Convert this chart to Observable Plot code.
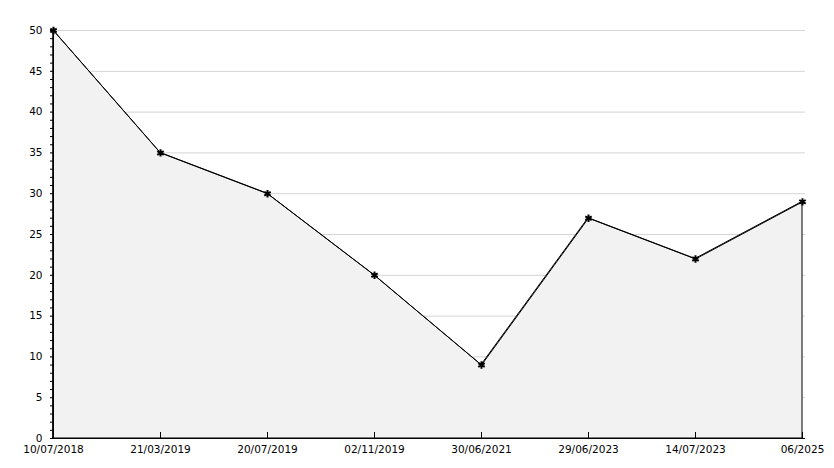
<!DOCTYPE html>
<html><head><meta charset="utf-8">
<script src="https://cdn.jsdelivr.net/npm/d3@7"></script>
<script src="https://cdn.jsdelivr.net/npm/@observablehq/plot@0.6"></script>
<style>
body{margin:0;background:#fff;}
svg{font-family:"DejaVu Sans",sans-serif;}
</style></head>
<body><div id="chart"></div>
<script>
const dates = ["10/07/2018","21/03/2019","20/07/2019","02/11/2019","30/06/2021","29/06/2023","14/07/2023","06/2025"];
const values = [50,35,30,20,9,27,22,29];
const yMajor = [0,5,10,15,20,25,30,35,40,45,50];
const yMinor = d3.range(0,51,1);
const data = dates.map((d,i)=>({date:d, value:values[i]}));

const W = 834, H = 468, mL = 50, mR = 29, mT = 30, mB = 30;
const plotW = W - mL - mR, plotH = H - mT - mB;
const pxPerUnit = plotH / 50;

const chart = Plot.plot({
  width:W, height:H,
  marginLeft:mL, marginRight:mR, marginTop:mT, marginBottom:mB,
  style:{fontSize:"10.5px", color:"#000", background:"#fff"},
  x:{type:"point", domain:dates, padding:0, label:null},
  y:{domain:[0,50], label:null},
  marks:[
    Plot.gridY(yMajor, {stroke:"#d4d4d4", strokeOpacity:1}),
    Plot.areaY(data, {x:"date", y:"value", fill:"#f2f2f2", stroke:"#000", strokeWidth:1}),
    Plot.lineY(data, {x:"date", y:"value", stroke:"#000", strokeWidth:1}),
    Plot.ruleY(yMinor, {y:d=>d, stroke:"#000", strokeWidth:1, insetRight: plotW - 4}),
    Plot.axisY({ticks:yMajor, tickSize:0, tickPadding:8, label:null}),
    Plot.ruleX(dates, {x:d=>d, y1:0, y2:6/pxPerUnit, stroke:"#000", strokeWidth:1}),
    Plot.axisX({tickSize:0, tickPadding:7, label:null}),
    Plot.ruleY([0], {stroke:"#000"}),
    Plot.ruleX([dates[0]], {stroke:"#000", y1:0, y2:50}),
    Plot.dot(data, {x:"date", y:"value", symbol:"asterisk", r:3.5, stroke:"#000", strokeWidth:2})
  ]
});
document.getElementById("chart").appendChild(chart);
</script></body></html>
